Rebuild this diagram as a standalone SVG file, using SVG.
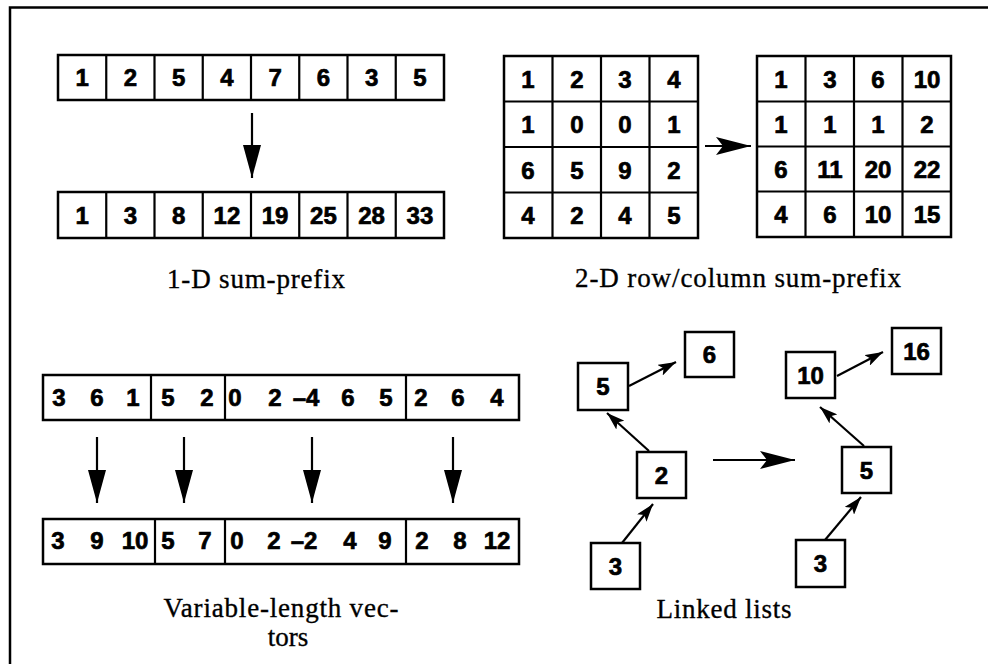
<svg xmlns="http://www.w3.org/2000/svg" width="988" height="664" viewBox="0 0 988 664">
  <defs>
    <style>
      .cell { fill: #fff; stroke: #000; stroke-width: 2.5; }
      .div { stroke: #000; stroke-width: 2.2; }
      .num { font-family: "Liberation Sans", Arial, sans-serif; font-weight: bold; font-size: 24px; fill: #000; stroke: #000; stroke-width: 0.7; text-anchor: middle; }
      .cap { font-family: "Liberation Serif", "Times New Roman", serif; font-size: 27px; fill: #000; stroke: #000; stroke-width: 0.35; text-anchor: middle; }
      .edge { stroke: #000; stroke-width: 2.2; fill: none; }
      .frame { stroke: #000; stroke-width: 2.5; fill: none; }
    </style>
    <!-- narrow triangular head for the vertical arrows -->
    <marker id="headDown" markerUnits="userSpaceOnUse" markerWidth="34" markerHeight="18" refX="33" refY="9" orient="auto">
      <path d="M0,0 L33,9 L0,18 z" fill="#000"/>
    </marker>
    <!-- notched head for the transformation arrows -->
    <marker id="headBig" markerUnits="userSpaceOnUse" markerWidth="36" markerHeight="18" refX="35" refY="9" orient="auto">
      <path d="M0,0 L35,9 L0,18 L7,9 z" fill="#000"/>
    </marker>
    <!-- small notched head for list pointers -->
    <marker id="headPtr" markerUnits="userSpaceOnUse" markerWidth="19" markerHeight="12" refX="18" refY="6" orient="auto">
      <path d="M0,0 L18,6 L0,12 L4,6 z" fill="#000"/>
    </marker>
  </defs>

  <rect width="988" height="664" fill="#fff"/>

  <!-- page frame: top and left rules -->
  <path class="frame" d="M10,664 L10,7.5 L988,7.5"/>

  <!-- 1-D sum-prefix -->
  <g id="prefix1d-input">
    <rect class="cell" x="58" y="55" width="386" height="45"/>
    <path class="div" d="M106.25,55V100M154.5,55V100M202.75,55V100M251,55V100M299.25,55V100M347.5,55V100M395.75,55V100"/>
    <text class="num" y="86"><tspan x="82.1">1</tspan><tspan x="130.4">2</tspan><tspan x="178.6">5</tspan><tspan x="226.9">4</tspan><tspan x="275.1">7</tspan><tspan x="323.4">6</tspan><tspan x="371.6">3</tspan><tspan x="419.9">5</tspan></text>
  </g>
  <g id="prefix1d-output">
    <rect class="cell" x="58" y="192" width="386" height="46"/>
    <path class="div" d="M106.25,192V238M154.5,192V238M202.75,192V238M251,192V238M299.25,192V238M347.5,192V238M395.75,192V238"/>
    <text class="num" y="223.5"><tspan x="82.1">1</tspan><tspan x="130.4">3</tspan><tspan x="178.6">8</tspan><tspan x="226.9">12</tspan><tspan x="275.1">19</tspan><tspan x="323.4">25</tspan><tspan x="371.6">28</tspan><tspan x="419.9">33</tspan></text>
  </g>
  <text class="cap" x="256" y="288" textLength="178" lengthAdjust="spacing">1-D sum-prefix</text>

  <!-- 2-D row/column sum-prefix -->
  <g id="prefix2d-input">
    <rect class="cell" x="504" y="56" width="194" height="182"/>
    <path class="div" d="M552.5,56V238M601,56V238M649.5,56V238M504,101.5H698M504,147H698M504,192.5H698"/>
    <text class="num" y="87.5"><tspan x="528">1</tspan><tspan x="577">2</tspan><tspan x="625">3</tspan><tspan x="674">4</tspan></text>
    <text class="num" y="133"><tspan x="528">1</tspan><tspan x="577">0</tspan><tspan x="625">0</tspan><tspan x="674">1</tspan></text>
    <text class="num" y="178.5"><tspan x="528">6</tspan><tspan x="577">5</tspan><tspan x="625">9</tspan><tspan x="674">2</tspan></text>
    <text class="num" y="224"><tspan x="528">4</tspan><tspan x="577">2</tspan><tspan x="625">4</tspan><tspan x="674">5</tspan></text>
  </g>
  <g id="prefix2d-output">
    <rect class="cell" x="757" y="56" width="194" height="181"/>
    <path class="div" d="M805.5,56V237M854,56V237M902.5,56V237M757,101.5H951M757,146.5H951M757,191.5H951"/>
    <text class="num" y="87.5"><tspan x="781">1</tspan><tspan x="830">3</tspan><tspan x="878">6</tspan><tspan x="927">10</tspan></text>
    <text class="num" y="133"><tspan x="781">1</tspan><tspan x="830">1</tspan><tspan x="878">1</tspan><tspan x="927">2</tspan></text>
    <text class="num" y="178"><tspan x="781">6</tspan><tspan x="830">11</tspan><tspan x="878">20</tspan><tspan x="927">22</tspan></text>
    <text class="num" y="223"><tspan x="781">4</tspan><tspan x="830">6</tspan><tspan x="878">10</tspan><tspan x="927">15</tspan></text>
  </g>
  <text class="cap" x="738" y="287" textLength="326" lengthAdjust="spacing">2-D row/column sum-prefix</text>

  <!-- variable-length vectors -->
  <g id="segvec-input">
    <rect class="cell" x="43" y="375" width="476" height="45"/>
    <path class="div" d="M151,375V420M225,375V420M406,375V420"/>
    <text class="num" y="406"><tspan x="59">3</tspan><tspan x="97">6</tspan><tspan x="133">1</tspan><tspan x="168">5</tspan><tspan x="207">2</tspan><tspan x="235">0</tspan><tspan x="275">2</tspan><tspan x="306">–4</tspan><tspan x="348">6</tspan><tspan x="386">5</tspan><tspan x="421">2</tspan><tspan x="458">6</tspan><tspan x="497">4</tspan></text>
  </g>
  <g id="segvec-output">
    <rect class="cell" x="43" y="519" width="476" height="45"/>
    <path class="div" d="M155,519V564M225,519V564M406,519V564"/>
    <text class="num" y="549"><tspan x="58">3</tspan><tspan x="97">9</tspan><tspan x="135">10</tspan><tspan x="168">5</tspan><tspan x="205">7</tspan><tspan x="237">0</tspan><tspan x="274">2</tspan><tspan x="304">–2</tspan><tspan x="350">4</tspan><tspan x="385">9</tspan><tspan x="422">2</tspan><tspan x="460">8</tspan><tspan x="497">12</tspan></text>
  </g>
  <text class="cap" x="281" y="617" textLength="235" lengthAdjust="spacing">Variable-length vec-</text>
  <text class="cap" x="288" y="646">tors</text>

  <!-- linked lists, before -->
  <g id="list-a-5">
    <rect class="cell" x="578" y="363" width="50" height="47"/>
    <text class="num" x="603" y="395">5</text>
  </g>
  <g id="list-a-6">
    <rect class="cell" x="685" y="332" width="49" height="45"/>
    <text class="num" x="709.5" y="363">6</text>
  </g>
  <g id="list-a-2">
    <rect class="cell" x="637" y="452" width="49" height="46"/>
    <text class="num" x="661.5" y="483.5">2</text>
  </g>
  <g id="list-a-3">
    <rect class="cell" x="591" y="543" width="49" height="46"/>
    <text class="num" x="615.5" y="574.5">3</text>
  </g>

  <!-- linked lists, after -->
  <g id="list-b-10">
    <rect class="cell" x="786" y="352" width="49" height="46"/>
    <text class="num" x="810.5" y="383.5">10</text>
  </g>
  <g id="list-b-16">
    <rect class="cell" x="892" y="328" width="49" height="46"/>
    <text class="num" x="916.5" y="359.5">16</text>
  </g>
  <g id="list-b-5">
    <rect class="cell" x="842" y="447" width="49" height="46"/>
    <text class="num" x="866.5" y="478.5">5</text>
  </g>
  <g id="list-b-3">
    <rect class="cell" x="796" y="540" width="49" height="47"/>
    <text class="num" x="820.5" y="572">3</text>
  </g>
  <text class="cap" x="724" y="618" textLength="135" lengthAdjust="spacing">Linked lists</text>

  <!-- connectors -->
  <g id="connectors">
    <path class="edge" marker-end="url(#headDown)" d="M252,113V178"/>
    <path class="edge" marker-end="url(#headBig)" d="M705,146H751"/>
    <path class="edge" marker-end="url(#headDown)" d="M97,437V503"/>
    <path class="edge" marker-end="url(#headDown)" d="M184,437V503"/>
    <path class="edge" marker-end="url(#headDown)" d="M312,437V503"/>
    <path class="edge" marker-end="url(#headDown)" d="M453,437V503"/>
    <path class="edge" marker-end="url(#headPtr)" d="M629,386L676,362"/>
    <path class="edge" marker-end="url(#headPtr)" d="M649,451L607,413"/>
    <path class="edge" marker-end="url(#headPtr)" d="M622,543L653,504"/>
    <path class="edge" marker-end="url(#headBig)" d="M713,460H795"/>
    <path class="edge" marker-end="url(#headPtr)" d="M837,376L883,352"/>
    <path class="edge" marker-end="url(#headPtr)" d="M864,446L820,407"/>
    <path class="edge" marker-end="url(#headPtr)" d="M825,540L861,497"/>
  </g>
</svg>
